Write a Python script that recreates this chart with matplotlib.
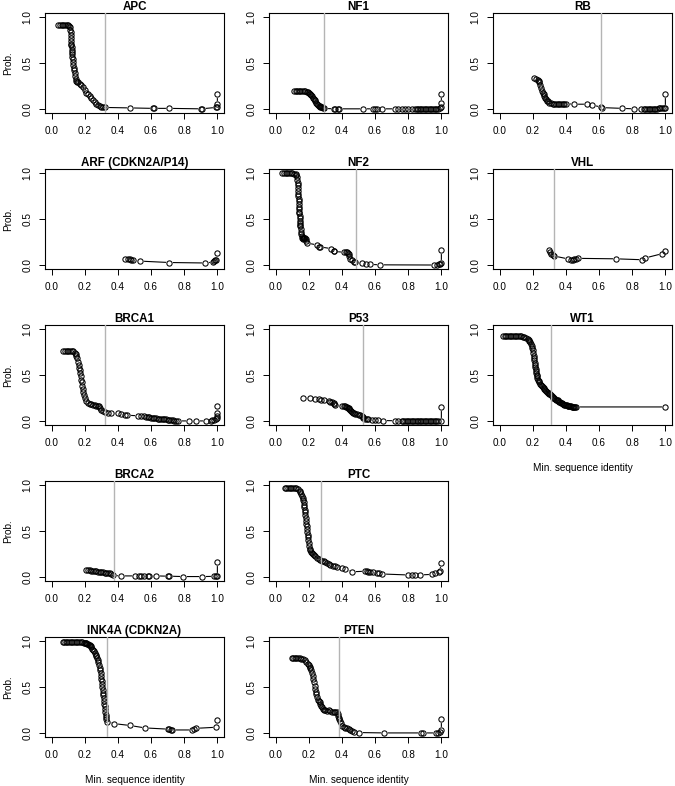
import matplotlib
matplotlib.use('Agg')
import matplotlib.pyplot as plt

plt.rcParams['font.family'] = ['Liberation Sans', 'DejaVu Sans']

# --- data ---
apc_x = [0.04, 0.05, 0.06, 0.07, 0.08, 0.09, 0.10, 0.105, 0.110,
         0.112, 0.114, 0.115, 0.116, 0.117, 0.118, 0.119, 0.120, 0.121, 0.122, 0.123, 0.124,
         0.126, 0.128, 0.130, 0.132, 0.135, 0.138, 0.142, 0.146, 0.150, 0.155, 0.16,
         0.17, 0.18, 0.19, 0.20, 0.21, 0.22, 0.23, 0.24, 0.25, 0.26, 0.27, 0.28, 0.29, 0.30, 0.31, 0.32,
         0.47, 0.61, 0.62, 0.71, 0.90, 0.905, 0.99, 1.0, 1.0, 1.0]
apc_y = [0.91, 0.91, 0.91, 0.91, 0.91, 0.91, 0.91, 0.905, 0.89,
         0.86, 0.83, 0.80, 0.77, 0.74, 0.71, 0.69, 0.67, 0.64, 0.62, 0.60, 0.57,
         0.54, 0.51, 0.48, 0.45, 0.42, 0.39, 0.36, 0.33, 0.31, 0.30, 0.29,
         0.27, 0.26, 0.24, 0.21, 0.18, 0.16, 0.14, 0.12, 0.10, 0.08, 0.06, 0.05, 0.04, 0.03, 0.025, 0.02,
         0.015, 0.01, 0.01, 0.01, 0.005, 0.005, 0.02, 0.03, 0.06, 0.16]

nf1_x = [0.11, 0.12, 0.13, 0.14, 0.15, 0.16, 0.17, 0.18, 0.19,
         0.195, 0.20, 0.205, 0.21, 0.215, 0.22, 0.225, 0.23, 0.235, 0.24,
         0.245, 0.25, 0.255, 0.26, 0.265, 0.27, 0.275, 0.28, 0.285, 0.29,
         0.35, 0.36, 0.375, 0.38, 0.53, 0.59, 0.60, 0.61, 0.64,
         0.72, 0.74, 0.76, 0.78, 0.80, 0.82, 0.84, 0.85, 0.86, 0.87,
         0.88, 0.89, 0.90, 0.91, 0.92, 0.93, 0.94, 0.95, 0.96, 0.97,
         0.98, 0.99, 1.0, 1.0, 1.0]
nf1_y = [0.20, 0.20, 0.20, 0.20, 0.20, 0.20, 0.20, 0.195, 0.19,
         0.185, 0.18, 0.17, 0.16, 0.15, 0.14, 0.125, 0.11, 0.10, 0.085,
         0.07, 0.06, 0.05, 0.04, 0.035, 0.03, 0.025, 0.02, 0.015, 0.01,
         0.005, 0.005, 0.005, 0.005, 0.005, 0.005, 0.005, 0.005, 0.005,
         0.005, 0.005, 0.005, 0.005, 0.005, 0.005, 0.005, 0.005, 0.005, 0.005,
         0.005, 0.005, 0.005, 0.005, 0.005, 0.005, 0.005, 0.005, 0.005, 0.006,
         0.008, 0.01, 0.02, 0.07, 0.16]

rb_x = [0.21, 0.22, 0.23, 0.235, 0.24, 0.245, 0.25, 0.255, 0.26, 0.265,
        0.27, 0.275, 0.28, 0.285, 0.29, 0.30, 0.31, 0.32, 0.33, 0.34,
        0.35, 0.36, 0.37, 0.38, 0.39, 0.40,
        0.45, 0.53, 0.56, 0.61, 0.62,
        0.74, 0.81, 0.85, 0.87,
        0.88, 0.89, 0.90, 0.91, 0.92, 0.93, 0.94, 0.95, 0.96, 0.97, 0.98, 0.99,
        1.0, 1.0]
rb_y = [0.335, 0.33, 0.32, 0.31, 0.29, 0.26, 0.23, 0.20, 0.18, 0.16,
        0.14, 0.125, 0.11, 0.095, 0.085, 0.07, 0.065, 0.06, 0.06, 0.06,
        0.06, 0.06, 0.06, 0.06, 0.06, 0.06,
        0.055, 0.055, 0.045, 0.025, 0.018,
        0.01, 0.005, 0.005, 0.005,
        0.007, 0.008, 0.008, 0.008, 0.008, 0.008, 0.008, 0.008, 0.01, 0.01, 0.01, 0.012,
        0.015, 0.16]

arf_x = [0.445, 0.46, 0.47, 0.48, 0.49, 0.535, 0.71, 0.925, 0.975, 0.98, 0.985, 0.99, 1.0]
arf_y = [0.065, 0.07, 0.065, 0.055, 0.055, 0.045, 0.03, 0.025, 0.035, 0.045, 0.055, 0.06, 0.135]

nf2_x = [0.04, 0.05, 0.06, 0.07, 0.08, 0.09, 0.10, 0.11, 0.12,
         0.125, 0.128, 0.130, 0.132, 0.133, 0.134, 0.135, 0.136, 0.137, 0.138,
         0.139, 0.140, 0.141, 0.142, 0.143, 0.144, 0.145, 0.146, 0.147, 0.148,
         0.149, 0.150, 0.152, 0.154, 0.156, 0.158, 0.160, 0.163, 0.166, 0.170,
         0.174, 0.178, 0.182, 0.186, 0.190,
         0.25, 0.26, 0.265, 0.335, 0.35, 0.355,
         0.415, 0.425, 0.43, 0.435, 0.44, 0.445, 0.45, 0.46, 0.47, 0.48,
         0.52, 0.545, 0.57, 0.63,
         0.955, 0.975, 0.985, 0.99, 1.0, 1.0]
nf2_y = [0.995, 0.995, 0.995, 0.995, 0.995, 0.995, 0.995, 0.99, 0.99,
         0.98, 0.95, 0.92, 0.89, 0.87, 0.84, 0.80, 0.77, 0.75, 0.72,
         0.69, 0.66, 0.63, 0.61, 0.58, 0.56, 0.53, 0.51, 0.48, 0.46,
         0.44, 0.42, 0.39, 0.36, 0.34, 0.32, 0.30, 0.29, 0.28, 0.29,
         0.30, 0.30, 0.28, 0.26, 0.24,
         0.22, 0.20, 0.20, 0.18, 0.155, 0.15,
         0.14, 0.14, 0.145, 0.13, 0.12, 0.10, 0.07, 0.055, 0.04, 0.035,
         0.02, 0.015, 0.01, 0.005,
         0.003, 0.005, 0.01, 0.015, 0.02, 0.17]

vhl_x = [0.295, 0.305, 0.31, 0.32, 0.33, 0.41, 0.43, 0.44, 0.45, 0.46, 0.47, 0.70, 0.86, 0.88, 0.98, 1.0]
vhl_y = [0.16, 0.14, 0.125, 0.11, 0.10, 0.07, 0.055, 0.06, 0.065, 0.07, 0.075, 0.07, 0.06, 0.08, 0.125, 0.155]

brca1_x = [0.07, 0.08, 0.09, 0.10, 0.11, 0.12, 0.13, 0.14,
           0.145, 0.15, 0.155, 0.16, 0.163, 0.166, 0.169, 0.172, 0.175, 0.178,
           0.181, 0.184, 0.187, 0.19, 0.195, 0.20, 0.21, 0.22, 0.23, 0.24,
           0.25, 0.26, 0.27, 0.28, 0.285, 0.29, 0.30, 0.31, 0.32, 0.34,
           0.36, 0.40, 0.42, 0.44, 0.455,
           0.52, 0.54, 0.56, 0.57, 0.58, 0.59, 0.60, 0.61, 0.62, 0.63,
           0.64, 0.65, 0.66, 0.67, 0.68, 0.69, 0.70, 0.71, 0.72, 0.73,
           0.74, 0.75, 0.76,
           0.83, 0.87, 0.93, 0.96, 0.97, 0.98, 0.99,
           1.0, 1.0, 1.0, 1.0]
brca1_y = [0.76, 0.76, 0.76, 0.76, 0.76, 0.76, 0.755, 0.74,
           0.73, 0.71, 0.68, 0.64, 0.61, 0.58, 0.55, 0.52, 0.49, 0.45,
           0.42, 0.38, 0.35, 0.32, 0.28, 0.25, 0.22, 0.20, 0.19, 0.185,
           0.18, 0.175, 0.17, 0.165, 0.16, 0.14, 0.125, 0.11, 0.105, 0.095,
           0.09, 0.085, 0.075, 0.07, 0.065,
           0.06, 0.06, 0.055, 0.05, 0.047, 0.044, 0.041, 0.038, 0.035, 0.032,
           0.03, 0.028, 0.026, 0.024, 0.022, 0.02, 0.018, 0.016, 0.014, 0.011,
           0.008, 0.006, 0.004,
           0.004, 0.004, 0.004, 0.004, 0.01, 0.015, 0.02,
           0.035, 0.06, 0.09, 0.16]

p53_x = [0.165, 0.21, 0.24, 0.26, 0.275, 0.29, 0.32, 0.33, 0.34, 0.35,
         0.355, 0.36, 0.40, 0.41, 0.42, 0.425, 0.43, 0.435, 0.44, 0.445,
         0.45, 0.455, 0.46, 0.465, 0.47, 0.48, 0.49, 0.50, 0.51, 0.52,
         0.525, 0.53, 0.54, 0.55, 0.56, 0.58, 0.60, 0.62, 0.65,
         0.72, 0.74, 0.76, 0.77, 0.78, 0.79, 0.80, 0.81, 0.82, 0.83,
         0.84, 0.85, 0.86, 0.87, 0.88, 0.89, 0.90, 0.91, 0.92, 0.93,
         0.94, 0.95, 0.96, 0.97, 0.98,
         1.0, 1.0]
p53_y = [0.25, 0.25, 0.245, 0.24, 0.235, 0.225, 0.215, 0.21, 0.205, 0.195,
         0.185, 0.175, 0.17, 0.165, 0.16, 0.155, 0.15, 0.145, 0.14, 0.135,
         0.125, 0.115, 0.105, 0.095, 0.09, 0.08, 0.075, 0.07, 0.065, 0.055,
         0.045, 0.035, 0.03, 0.025, 0.02, 0.012, 0.01, 0.01, 0.008,
         0.006, 0.006, 0.005, 0.005, 0.005, 0.005, 0.005, 0.005, 0.005, 0.005,
         0.005, 0.005, 0.005, 0.005, 0.005, 0.005, 0.005, 0.005, 0.005, 0.005,
         0.005, 0.005, 0.005, 0.005, 0.005,
         0.005, 0.155]

wt1_x = [0.02, 0.03, 0.04, 0.05, 0.06, 0.07, 0.08, 0.09, 0.10, 0.11,
         0.12, 0.13, 0.14, 0.15, 0.16, 0.17, 0.175, 0.18, 0.185, 0.19,
         0.193, 0.196, 0.199, 0.202, 0.205, 0.207, 0.209, 0.211, 0.213, 0.215,
         0.217, 0.219, 0.221, 0.223, 0.225, 0.228, 0.231, 0.235, 0.24, 0.245,
         0.25, 0.255, 0.26, 0.265, 0.27, 0.275, 0.28, 0.285, 0.29, 0.295,
         0.30, 0.305, 0.31, 0.315, 0.32, 0.325, 0.33, 0.335, 0.34, 0.345,
         0.35, 0.355, 0.36, 0.365, 0.37, 0.375, 0.38, 0.385, 0.39, 0.395,
         0.40, 0.405, 0.41, 0.415, 0.42, 0.425, 0.43, 0.435, 0.44, 0.445,
         0.45, 0.455, 0.46, 1.0]
wt1_y = [0.925, 0.925, 0.925, 0.925, 0.925, 0.925, 0.924, 0.923, 0.922, 0.921,
         0.92, 0.918, 0.915, 0.91, 0.90, 0.89, 0.88, 0.87, 0.855, 0.835,
         0.815, 0.79, 0.765, 0.74, 0.71, 0.685, 0.66, 0.635, 0.61, 0.59,
         0.565, 0.545, 0.525, 0.505, 0.485, 0.465, 0.45, 0.435, 0.42, 0.405,
         0.39, 0.38, 0.37, 0.36, 0.35, 0.34, 0.33, 0.32, 0.31, 0.305,
         0.30, 0.29, 0.28, 0.275, 0.265, 0.255, 0.25, 0.245, 0.235, 0.23,
         0.225, 0.215, 0.21, 0.205, 0.2, 0.195, 0.19, 0.185, 0.18, 0.177,
         0.174, 0.171, 0.168, 0.165, 0.163, 0.161, 0.16, 0.158, 0.157, 0.156,
         0.155, 0.155, 0.155, 0.155]

brca2_x = [0.21, 0.22, 0.23, 0.24, 0.25, 0.26, 0.27, 0.28, 0.29, 0.30,
           0.31, 0.32, 0.33, 0.34, 0.35, 0.36, 0.37,
           0.42, 0.50, 0.53, 0.54, 0.56, 0.58, 0.59, 0.63,
           0.70, 0.71, 0.79, 0.91, 0.98, 0.99, 1.0, 1.0]
brca2_y = [0.08, 0.078, 0.075, 0.072, 0.07, 0.067, 0.064, 0.06, 0.058, 0.055,
           0.052, 0.05, 0.047, 0.045, 0.042, 0.038, 0.02,
           0.015, 0.015, 0.015, 0.015, 0.015, 0.015, 0.015, 0.015,
           0.012, 0.012, 0.008, 0.008, 0.01, 0.01, 0.012, 0.165]

ptc_x = [0.056, 0.065, 0.075, 0.085, 0.095, 0.105, 0.115, 0.125, 0.135, 0.145,
         0.150, 0.155, 0.160, 0.163, 0.166, 0.169, 0.172, 0.174, 0.176, 0.178,
         0.180, 0.182, 0.184, 0.186, 0.188, 0.190, 0.192, 0.194, 0.196, 0.198,
         0.200, 0.202, 0.205, 0.21, 0.215, 0.22, 0.225, 0.23, 0.24, 0.25,
         0.26, 0.27, 0.28, 0.29, 0.30, 0.31, 0.32, 0.33, 0.345, 0.36,
         0.37, 0.40, 0.42, 0.46, 0.54, 0.55, 0.56, 0.57, 0.59, 0.61,
         0.625, 0.64, 0.80, 0.82, 0.84, 0.87, 0.945, 0.96, 0.985, 0.99,
         1.0]
ptc_y = [0.965, 0.965, 0.965, 0.965, 0.965, 0.965, 0.963, 0.96, 0.95, 0.935,
         0.92, 0.905, 0.88, 0.86, 0.835, 0.81, 0.78, 0.755, 0.73, 0.70,
         0.67, 0.64, 0.61, 0.58, 0.55, 0.52, 0.49, 0.46, 0.43, 0.40,
         0.37, 0.34, 0.31, 0.29, 0.275, 0.26, 0.25, 0.24, 0.225, 0.21,
         0.20, 0.19, 0.18, 0.172, 0.165, 0.155, 0.145, 0.135, 0.125, 0.12,
         0.115, 0.097, 0.085, 0.06, 0.065, 0.065, 0.062, 0.06, 0.055, 0.05,
         0.046, 0.036, 0.025, 0.025, 0.025, 0.025, 0.032, 0.047, 0.06, 0.07,
         0.15]

ink4a_x = [0.066, 0.075, 0.085, 0.095, 0.105, 0.115, 0.125, 0.135, 0.145, 0.155,
           0.165, 0.175, 0.185, 0.195, 0.20, 0.205, 0.21, 0.215, 0.22, 0.225,
           0.23, 0.235, 0.24, 0.245, 0.25, 0.255, 0.26, 0.265, 0.27, 0.274,
           0.278, 0.282, 0.286, 0.289, 0.292, 0.295, 0.298, 0.300, 0.302, 0.304,
           0.306, 0.308, 0.310, 0.312, 0.314, 0.316, 0.318, 0.320, 0.322, 0.324,
           0.326, 0.328, 0.330, 0.334, 0.374, 0.47, 0.564, 0.70, 0.71, 0.72,
           0.726, 0.846, 0.86, 0.874, 0.99, 1.0]
ink4a_y = [0.982, 0.982, 0.982, 0.982, 0.982, 0.982, 0.982, 0.982, 0.982, 0.982,
           0.982, 0.982, 0.982, 0.98, 0.978, 0.975, 0.972, 0.968, 0.964, 0.958,
           0.95, 0.94, 0.93, 0.915, 0.90, 0.885, 0.87, 0.85, 0.83, 0.81,
           0.79, 0.765, 0.74, 0.71, 0.68, 0.65, 0.62, 0.59, 0.56, 0.53,
           0.50, 0.47, 0.44, 0.41, 0.38, 0.35, 0.32, 0.29, 0.26, 0.23,
           0.20, 0.18, 0.15, 0.125, 0.105, 0.085, 0.058, 0.045, 0.048, 0.04,
           0.036, 0.036, 0.045, 0.054, 0.065, 0.145]

pten_x = [0.096, 0.105, 0.115, 0.125, 0.135, 0.145, 0.155, 0.165, 0.175, 0.185,
          0.195, 0.20, 0.205, 0.21, 0.215, 0.22, 0.224, 0.228, 0.232, 0.236,
          0.24, 0.243, 0.246, 0.25, 0.255, 0.26, 0.265, 0.27, 0.275, 0.28,
          0.285, 0.29, 0.30, 0.31, 0.32, 0.33, 0.34, 0.35, 0.36, 0.37,
          0.375, 0.378, 0.381, 0.384, 0.388, 0.392, 0.40, 0.41, 0.42, 0.43,
          0.44, 0.45, 0.46, 0.47, 0.50, 0.655, 0.88, 0.89, 0.97, 0.98,
          0.99, 1.0, 1.0]
pten_y = [0.815, 0.815, 0.815, 0.815, 0.812, 0.81, 0.805, 0.80, 0.79, 0.77,
          0.75, 0.735, 0.72, 0.70, 0.68, 0.65, 0.62, 0.585, 0.55, 0.515,
          0.48, 0.45, 0.42, 0.39, 0.365, 0.35, 0.34, 0.32, 0.30, 0.28,
          0.265, 0.25, 0.25, 0.245, 0.255, 0.245, 0.235, 0.23, 0.23, 0.225,
          0.21, 0.19, 0.17, 0.15, 0.13, 0.11, 0.08, 0.065, 0.06, 0.055,
          0.05, 0.04, 0.025, 0.018, 0.008, 0.004, 0.004, 0.004, 0.004, 0.006,
          0.015, 0.035, 0.155]

genes = ['APC', 'NF1', 'RB', 'ARF (CDKN2A/P14)', 'NF2', 'VHL', 'BRCA1', 'P53', 'WT1',
         'BRCA2', 'PTC', 'INK4A (CDKN2A)', 'PTEN']
xs = [apc_x, nf1_x, rb_x, arf_x, nf2_x, vhl_x, brca1_x, p53_x, wt1_x,
      brca2_x, ptc_x, ink4a_x, pten_x]
ys = [apc_y, nf1_y, rb_y, arf_y, nf2_y, vhl_y, brca1_y, p53_y, wt1_y,
      brca2_y, ptc_y, ink4a_y, pten_y]
cutoffs = [0.324, 0.294, 0.612, None, 0.486, 0.331, 0.324, 0.528, 0.307,
           0.374, 0.276, 0.334, 0.385]
# grid slot (row, col) of each panel
slots = [(0, 0), (0, 1), (0, 2), (1, 0), (1, 1), (1, 2), (2, 0), (2, 1), (2, 2),
         (3, 0), (3, 1), (4, 0), (4, 1)]
# panels that carry the x label (lowest in their column)
with_xlabel = ['WT1', 'INK4A (CDKN2A)', 'PTEN']

W, H = 675, 786
fig = plt.figure(figsize=(W / 100, H / 100), dpi=100)

col_left = [45, 269, 493]
row_top = [13, 169, 325, 481, 637]
bw, bh = 179, 100

for gene, x, y, cut, (r, c) in zip(genes, xs, ys, cutoffs, slots):
    ax = fig.add_axes([col_left[c] / W, 1 - (row_top[r] + bh) / H, bw / W, bh / H])
    ax.plot(x, y, color='black', lw=0.8, zorder=1)
    ax.plot(x, y, ls='none', marker='o', ms=5.2, mfc='white', mec='none', zorder=2)
    ax.plot(x, y, ls='none', marker='o', ms=3.8, mfc='none', mec='black', mew=0.75, zorder=3)
    if cut is not None:
        ax.axvline(cut, color='#b4b4b4', lw=1.0, zorder=4)
    ax.set_xlim(-0.04, 1.04)
    ax.set_ylim(-0.04, 1.04)
    ax.set_xticks([0, 0.2, 0.4, 0.6, 0.8, 1.0])
    ax.set_xticklabels(['0.0', '0.2', '0.4', '0.6', '0.8', '1.0'])
    ax.set_yticks([0, 0.5, 1.0])
    ax.set_yticklabels(['0.0', '0.5', '1.0'], rotation=90, va='center')
    ax.tick_params(labelsize=7.2, length=4, width=0.7, pad=5)
    for s in ax.spines.values():
        s.set_linewidth(0.8)
    ax.set_title(gene, fontsize=8.4, fontweight='bold', pad=2)
    if c == 0:
        ax.set_ylabel('Prob.', fontsize=7.2, labelpad=7)
    if gene in with_xlabel:
        ax.set_xlabel('Min. sequence identity', fontsize=7.2, labelpad=11)

fig.savefig('out.png', dpi=100)
